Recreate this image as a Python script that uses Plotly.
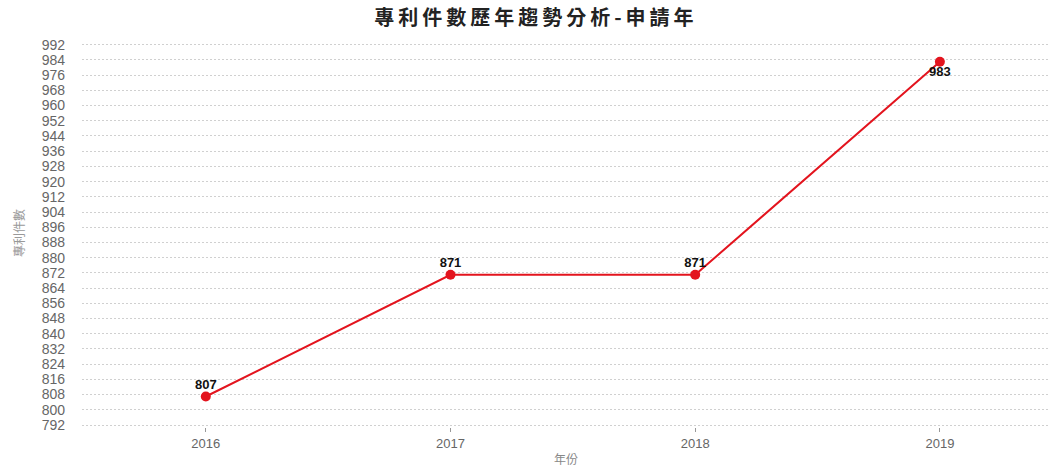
import plotly.graph_objects as go

years = ["2016", "2017", "2018", "2019"]
counts = [807, 871, 871, 983]
label_positions = ["top center", "top center", "top center", "bottom center"]
y_ticks = list(range(792, 993, 8))
title_text = "專利件數歷年趨勢分析-申請年"

x_idx = list(range(len(years)))
RED = "#e3141e"

fig = go.Figure()
fig.add_trace(go.Scatter(
    x=x_idx, y=counts, mode="lines+markers",
    line=dict(color=RED, width=2),
    marker=dict(color=RED, size=10),
    hoverinfo="x+y",
))
fig.add_trace(go.Scatter(
    x=x_idx, y=counts, mode="markers+text",
    marker=dict(size=5, opacity=0),
    text=[str(c) for c in counts],
    textposition=label_positions,
    textfont=dict(family="Liberation Sans, Arial", size=13, color="#111111", weight="bold"),
    cliponaxis=False,
    hoverinfo="skip",
))

spaced_title = "\u2009".join(title_text)

fig.update_layout(
    width=1053, height=469,
    margin=dict(l=82, r=3, t=39, b=42),
    paper_bgcolor="white", plot_bgcolor="white",
    showlegend=False,
    title=dict(text="<b>" + spaced_title + "</b>", x=0.507, xanchor="center",
               y=0.962, yanchor="middle",
               font=dict(family="Noto Sans CJK TC", size=20, color="#222222")),
    font=dict(family="Liberation Sans, Arial", color="#666666"),
)
fig.update_xaxes(
    range=[-0.506, 3.45], tickmode="array", tickvals=x_idx, ticktext=years,
    showgrid=False, zeroline=False, showline=False,
    ticks="outside", ticklen=4, tickcolor="#999999", tickwidth=1,
    tickfont=dict(size=13, color="#666666"),
    title=dict(text="年份", standoff=6, font=dict(family="Noto Sans CJK TC", size=12, color="#888888")),
)
fig.update_yaxes(
    range=[790.95, 995], tickmode="array", tickvals=y_ticks,
    showgrid=True, gridcolor="#d0d0d0", griddash="2px,2px", gridwidth=1,
    zeroline=False, showline=False, ticks="",
    tickfont=dict(size=14, color="#666666"), ticklabelstandoff=16,
    title=dict(text="專利件數", standoff=14, font=dict(family="Noto Sans CJK TC", size=12, color="#999999")),
)

fig.write_html("out.html")
